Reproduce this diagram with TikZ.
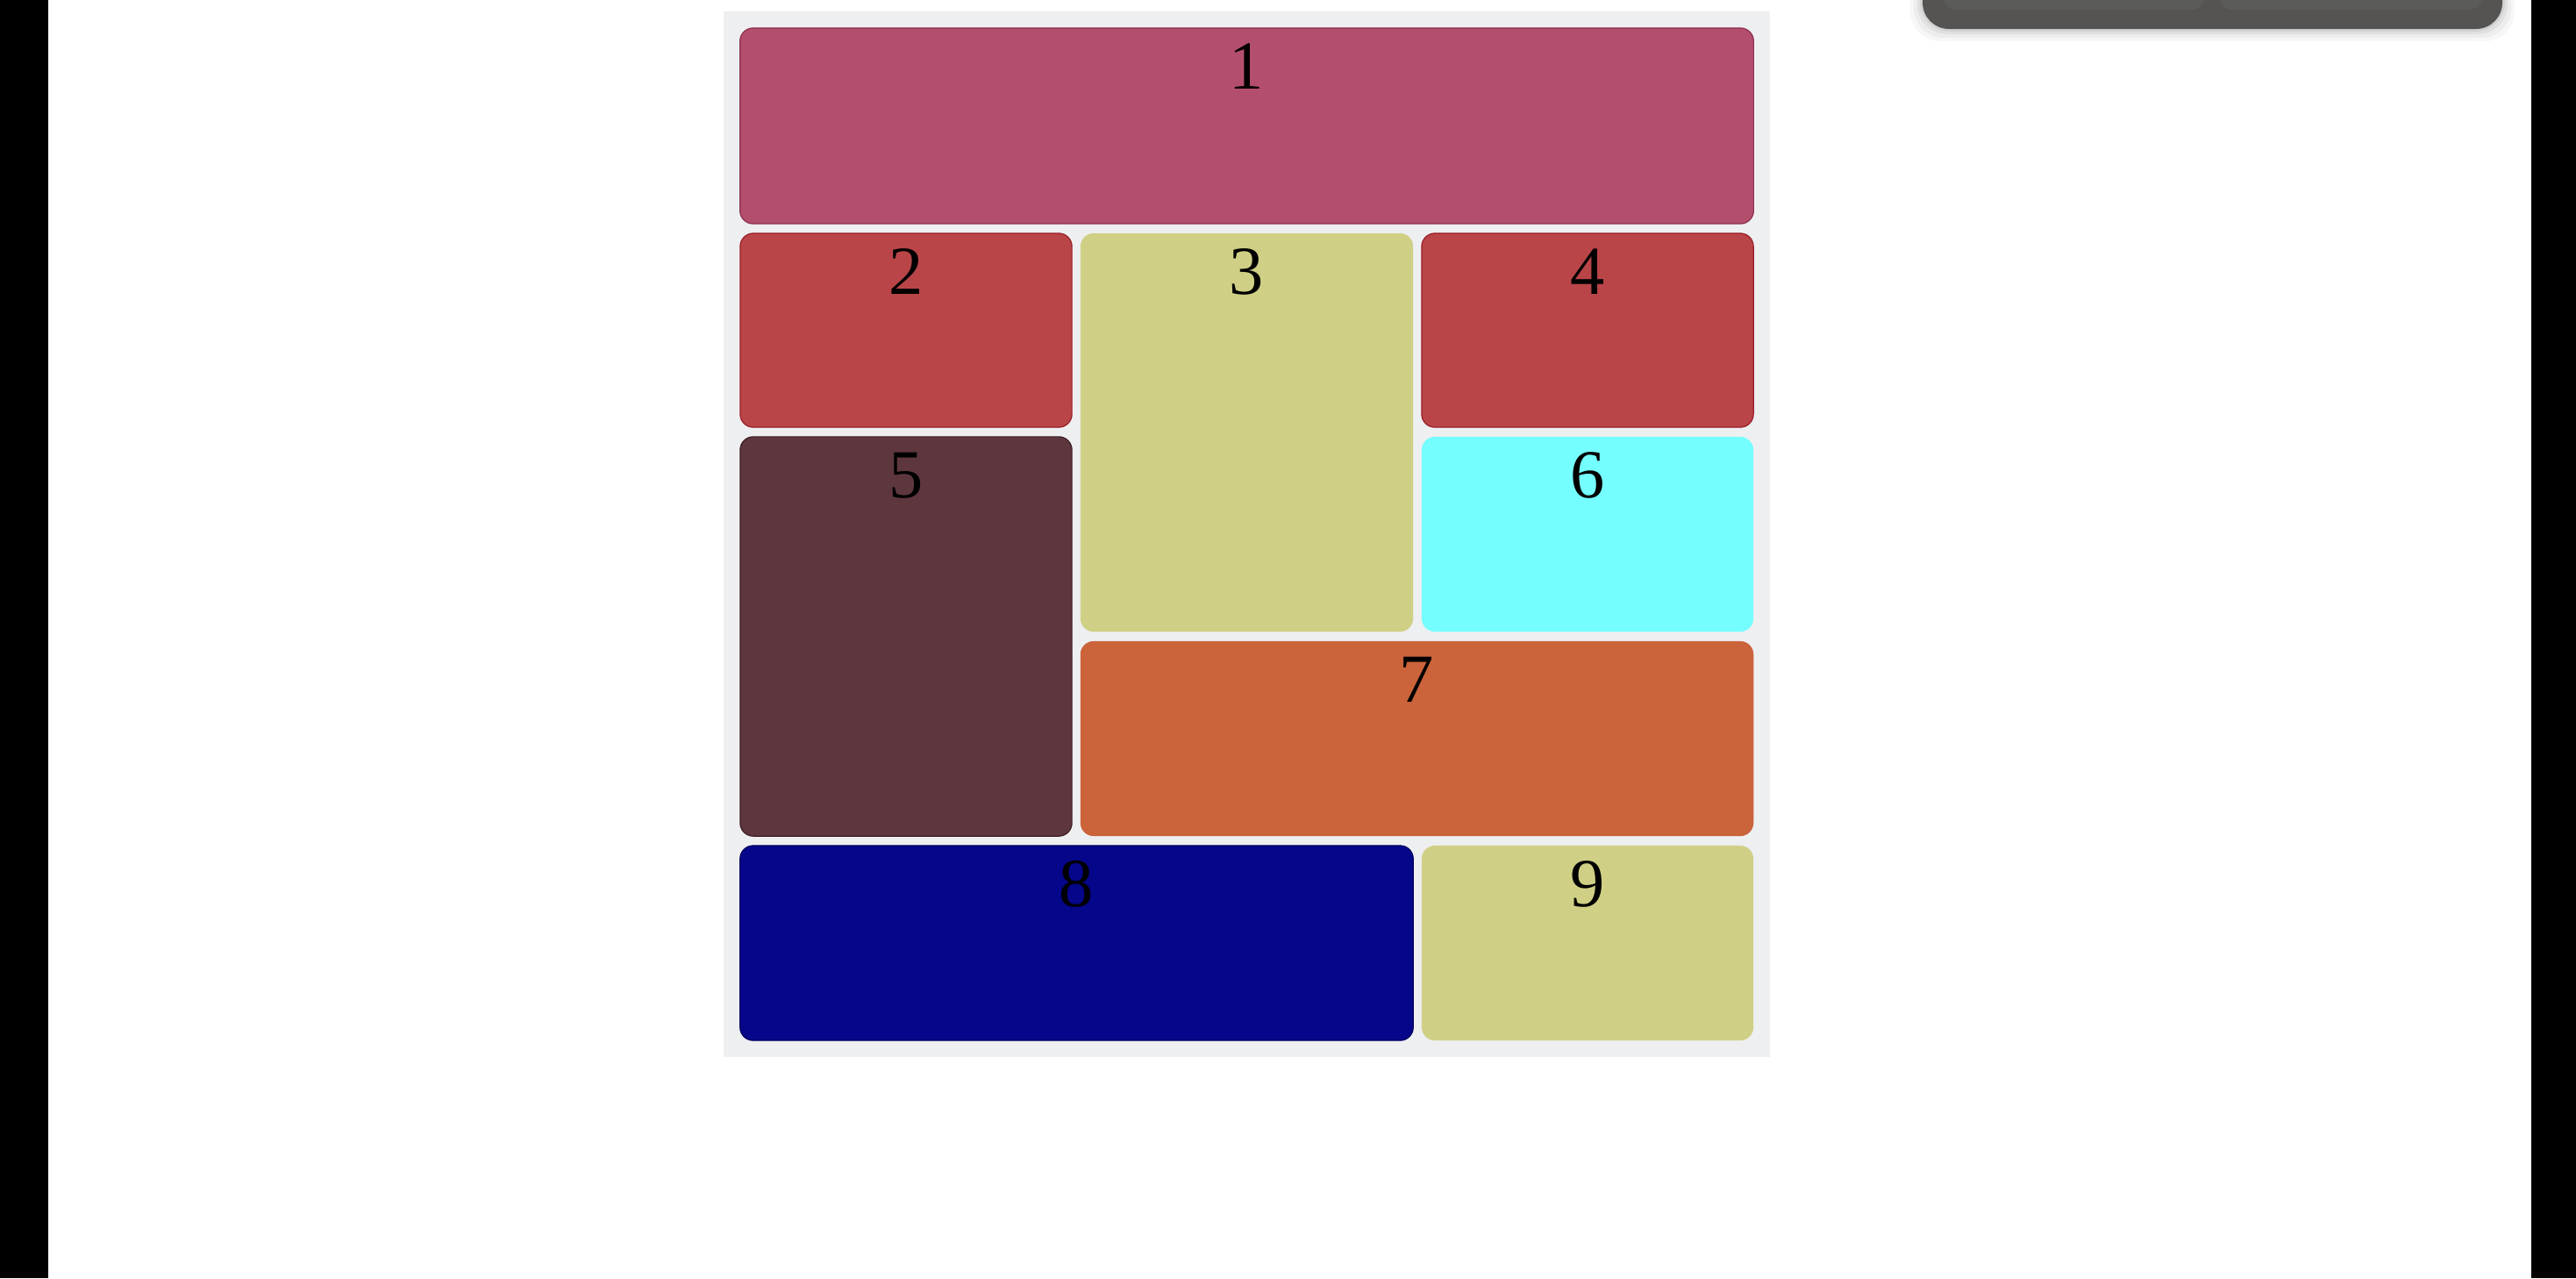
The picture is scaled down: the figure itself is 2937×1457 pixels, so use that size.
\documentclass[tikz,border=0pt]{standalone}
\usepackage{fontspec}
\setmainfont{Liberation Serif}
\definecolor{panel}{HTML}{EEEFF1}
\definecolor{cA}{HTML}{B34F6D}
\definecolor{cAd}{HTML}{8E2F4F}
\definecolor{cB}{HTML}{B94548}
\definecolor{cBd}{HTML}{9A1E28}
\definecolor{cC}{HTML}{CFD085}
\definecolor{cD}{HTML}{5E373E}
\definecolor{cDd}{HTML}{3E1E24}
\definecolor{cE}{HTML}{75FEFF}
\definecolor{cF}{HTML}{CB633B}
\definecolor{cG}{HTML}{06068A}
\definecolor{cGd}{HTML}{000060}
\definecolor{wdark}{HTML}{555453}
\definecolor{winner}{HTML}{5B5B5A}
\tikzset{
  cell/.style={rectangle, rounded corners=0.15cm, inner sep=0pt, outer sep=0pt},
  num/.style={anchor=base, inner sep=0pt, font=\fontsize{22.3}{26}\selectfont, text=black},
}
\begin{document}
\begin{tikzpicture}[x=0.01cm,y=-0.01cm]
\useasboundingbox (0,0) rectangle (2937,1457);
\fill[white] (0,0) rectangle (2937,1457);
% side bars
\fill[black] (0,0) rectangle (55,1457);
\fill[black] (2886,0) rectangle (2937,1457);
% top-right widget with soft shadow
\foreach \o/\a in {14/0.03,10/0.04,6/0.05,3/0.06}{
  \fill[black, opacity=\a, rounded corners=0.34cm] (2192-\o,-60) rectangle (2853+\o,33+\o);
}
\fill[wdark, rounded corners=0.3cm] (2192,-60) rectangle (2853,33);
\fill[winner, rounded corners=0.15cm] (2215,-60) rectangle (2514,11);
\fill[winner, rounded corners=0.15cm] (2530,-60) rectangle (2830,11);
% panel
\node[rectangle, fill=panel, inner sep=0pt, minimum width=11.93cm, minimum height=11.92cm] (panel) at (1421.5,609) {};
% cells
\node[cell, fill=cA, draw=cAd, line width=0.35pt, minimum width=11.55cm, minimum height=2.23cm] (b1) at (1421.5,143.5) {};
\node[cell, fill=cB, draw=cBd, line width=0.35pt, minimum width=3.78cm, minimum height=2.21cm] (b2) at (1033,376.5) {};
\node[cell, fill=cC, minimum width=3.79cm, minimum height=4.54cm] (b3) at (1421.5,493) {};
\node[cell, fill=cB, draw=cBd, line width=0.35pt, minimum width=3.78cm, minimum height=2.21cm] (b4) at (1810,376.5) {};
\node[cell, fill=cD, draw=cDd, line width=0.35pt, minimum width=3.78cm, minimum height=4.55cm] (b5) at (1033,725.5) {};
\node[cell, fill=cE, minimum width=3.78cm, minimum height=2.22cm] (b6) at (1810,609) {};
\node[cell, fill=cF, minimum width=7.67cm, minimum height=2.22cm] (b7) at (1615.5,842) {};
\node[cell, fill=cG, draw=cGd, line width=0.35pt, minimum width=7.67cm, minimum height=2.22cm] (b8) at (1227.5,1075) {};
\node[cell, fill=cC, minimum width=3.78cm, minimum height=2.22cm] (b9) at (1810,1075) {};
% labels
\node[num] (t1) at ([yshift=-0.70cm]b1.north) {1};
\node[num] (t2) at ([yshift=-0.70cm]b2.north) {2};
\node[num] (t3) at ([yshift=-0.70cm]b3.north) {3};
\node[num] (t4) at ([yshift=-0.70cm]b4.north) {4};
\node[num] (t5) at ([yshift=-0.70cm]b5.north) {5};
\node[num] (t6) at ([yshift=-0.70cm]b6.north) {6};
\node[num] (t7) at ([yshift=-0.70cm]b7.north) {7};
\node[num] (t8) at ([yshift=-0.70cm]b8.north) {8};
\node[num] (t9) at ([yshift=-0.70cm]b9.north) {9};
\end{tikzpicture}
\end{document}
